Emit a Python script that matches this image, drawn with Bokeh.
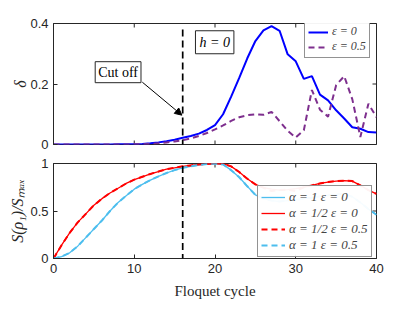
import math
from bokeh.plotting import figure
from bokeh.layouts import column
from bokeh.models import (Legend, LegendItem, Label, Arrow, NormalHead,
                          FixedTicker, Range1d)
from bokeh.embed import file_html
from bokeh.resources import INLINE

# ---------------- data ----------------
cycles = list(range(0, 41))

delta_eps0 = [0, 0, 0, 0, 0, 0, 0, 0, 0.0005, 0.001, 0.001, 0.002, 0.004, 0.007,
              0.011, 0.016, 0.022, 0.028, 0.036, 0.048, 0.064, 0.10, 0.158, 0.22,
              0.285, 0.342, 0.377, 0.391, 0.376, 0.298, 0.275, 0.217, 0.226,
              0.165, 0.146, 0.113, 0.086, 0.057, 0.052, 0.041, 0.040]

delta_eps05 = [0, 0, 0, 0, 0, 0, 0, 0, 0, 0, 0.001, 0.001, 0.002, 0.004, 0.007,
               0.010, 0.014, 0.020, 0.028, 0.038, 0.050, 0.063, 0.078, 0.090,
               0.097, 0.100, 0.098, 0.108, 0.077, 0.045, 0.023, 0.047, 0.180,
               0.115, 0.092, 0.196, 0.226, 0.150, 0.025, 0.135, 0.090]

s_a1_eps0 = [0, 0.02, 0.06, 0.13, 0.22, 0.31, 0.40, 0.50, 0.59, 0.66, 0.73,
             0.78, 0.825, 0.865, 0.90, 0.93, 0.955, 0.97, 0.985, 0.995, 1.0,
             0.99, 0.93, 0.855, 0.76, 0.67, 0.63, 0.61, 0.60, 0.61, 0.62, 0.63,
             0.64, 0.655, 0.665, 0.675, 0.68, 0.65, 0.59, 0.52, 0.46]

s_a12_eps0 = [0, 0.14, 0.27, 0.38, 0.47, 0.56, 0.63, 0.69, 0.74, 0.79, 0.83,
              0.86, 0.89, 0.915, 0.94, 0.955, 0.97, 0.98, 0.99, 0.995, 1.0,
              0.998, 0.97, 0.91, 0.84, 0.78, 0.745, 0.73, 0.72, 0.725, 0.735,
              0.75, 0.77, 0.79, 0.805, 0.815, 0.82, 0.815, 0.77, 0.72, 0.68]

s_a12_eps05 = [0, 0.14, 0.27, 0.38, 0.47, 0.56, 0.63, 0.69, 0.74, 0.79, 0.83,
               0.86, 0.89, 0.915, 0.94, 0.955, 0.97, 0.98, 0.99, 0.995, 1.0,
               0.998, 0.97, 0.91, 0.84, 0.78, 0.745, 0.71, 0.72, 0.725, 0.71,
               0.75, 0.77, 0.79, 0.805, 0.815, 0.82, 0.815, 0.77, 0.72, 0.68]

s_a1_eps05 = [0, 0.02, 0.06, 0.13, 0.22, 0.31, 0.40, 0.50, 0.59, 0.66, 0.73,
              0.78, 0.825, 0.865, 0.90, 0.93, 0.955, 0.97, 0.985, 0.995, 1.0,
              0.99, 0.93, 0.855, 0.76, 0.67, 0.63, 0.61, 0.60, 0.61, 0.62, 0.63,
              0.64, 0.655, 0.665, 0.675, 0.68, 0.65, 0.59, 0.52, 0.46]

cutoff_cycle = 16
cutoff_line_top = 0.38

x_ticks = [0, 10, 20, 30, 40]
top_y_ticks = [0, 0.2, 0.4]
top_y_labels = ["0", "0.2", "0.4"]
bot_y_ticks = [0, 0.5, 1]
bot_y_labels = ["0", "0.5", "1"]

# ---------------- styling helpers ----------------
AX = "#262626"
TICK_FONT = "Liberation Sans"
SERIF = "Liberation Serif"
X_MIN, X_MAX = 0, 40


def style_axis(ax, ticks, labels=None):
    ax.ticker = FixedTicker(ticks=ticks)
    ax.major_tick_in = 4
    ax.major_tick_out = 0
    ax.minor_tick_line_color = None
    ax.axis_line_color = AX
    ax.major_tick_line_color = AX
    ax.major_label_text_color = AX
    ax.major_label_text_font = TICK_FONT
    ax.major_label_text_font_size = "13px"
    ax.major_label_standoff = 5
    if labels is not None:
        ax.major_label_overrides = {t: l for t, l in zip(ticks, labels)}


def box_ticks(p, x_edges, y_top, y_ticks, y_bottom=None):
    # inward ticks on the box edges (the half outside the frame is clipped)
    n = len(x_ticks)
    p.scatter(x_ticks, [y_top] * n, marker="dash", size=8, angle=math.pi / 2,
              line_color=AX, line_width=1)
    if y_bottom is not None:
        p.scatter(x_ticks, [y_bottom] * n, marker="dash", size=8,
                  angle=math.pi / 2, line_color=AX, line_width=1)
    p.scatter([x_edges] * len(y_ticks), y_ticks, marker="dash", size=8,
              line_color=AX, line_width=1)


def base_fig(height, y_range, border_top, border_bottom):
    p = figure(width=407, height=height, x_range=Range1d(X_MIN, X_MAX),
               y_range=y_range, output_backend="svg", toolbar_location=None,
               min_border_left=53, min_border_right=31,
               min_border_top=border_top, min_border_bottom=border_bottom)
    p.grid.visible = False
    p.outline_line_color = AX
    p.background_fill_color = "white"
    p.border_fill_color = "white"
    return p


# ---------------- top panel ----------------
p1 = base_fig(156, Range1d(0, 0.4), 23, 12)
p1.xaxis.visible = False
style_axis(p1.yaxis[0], top_y_ticks, top_y_labels)
p1.yaxis.axis_label = "δ"
p1.yaxis.axis_label_text_font = SERIF
p1.yaxis.axis_label_text_font_size = "16px"
p1.yaxis.axis_label_text_font_style = "italic"
p1.yaxis.axis_label_text_color = AX
p1.yaxis.axis_label_standoff = -2
box_ticks(p1, X_MAX, 0.4, top_y_ticks, y_bottom=0)

r_b = p1.line(cycles, delta_eps0, line_color="#0000FF", line_width=2)
r_p = p1.line(cycles, delta_eps05, line_color="#7E2F8E", line_width=2,
              line_dash="6 4")

p1.add_layout(Arrow(end=None, x_start=cutoff_cycle, y_start=cutoff_line_top,
                    x_end=cutoff_cycle, y_end=-0.045, line_color="black",
                    line_width=1.7, line_dash="7 4"))

p1.add_layout(Arrow(end=NormalHead(size=7, fill_color="black", line_color="black"),
                    x_start=11.0, y_start=0.206, x_end=15.9, y_end=0.097,
                    line_color="black", line_width=1))
p1.add_layout(Label(x=8.0, y=0.239, text="Cut off", text_align="center",
                    text_baseline="middle", text_font=SERIF, text_font_size="14px",
                    text_color="black", border_line_color=AX,
                    background_fill_color="white", padding=3))
p1.add_layout(Label(x=19.96, y=0.338, text="h = 0", text_align="center",
                    text_baseline="middle", text_font=SERIF, text_font_size="14px",
                    text_font_style="italic", text_color="black",
                    border_line_color=AX, background_fill_color="white", padding=4))

leg1 = Legend(items=[LegendItem(label="ε = 0", renderers=[r_b]),
                     LegendItem(label="ε = 0.5", renderers=[r_p])],
              location=(251, 86))
leg1.border_line_color = AX
leg1.padding = 3
leg1.spacing = 0
leg1.margin = 0
leg1.glyph_width = 20
leg1.glyph_height = 14
leg1.label_height = 14
leg1.label_standoff = 4
leg1.label_text_font = SERIF
leg1.label_text_font_size = "12px"
leg1.label_text_font_style = "italic"
p1.add_layout(leg1)

# ---------------- bottom panel ----------------
p2 = base_fig(148, Range1d(0, 1), 7, 46)
style_axis(p2.xaxis[0], x_ticks)
style_axis(p2.yaxis[0], bot_y_ticks, bot_y_labels)
p2.xaxis.axis_label = "Floquet cycle"
p2.xaxis.axis_label_text_font = SERIF
p2.xaxis.axis_label_text_font_size = "15px"
p2.xaxis.axis_label_text_font_style = "normal"
p2.xaxis.axis_label_text_color = AX
p2.xaxis.axis_label_standoff = 7
p2.yaxis.axis_label = "S(ρ₁)/Sₘₐₓ"
p2.yaxis.axis_label_text_font = SERIF
p2.yaxis.axis_label_text_font_size = "16px"
p2.yaxis.axis_label_text_font_style = "italic"
p2.yaxis.axis_label_text_color = AX
p2.yaxis.axis_label_standoff = 1
box_ticks(p2, X_MAX, 1, bot_y_ticks)

r1 = p2.line(cycles, s_a1_eps0, line_color="#4DBEEE", line_width=1.3)
r2 = p2.line(cycles, s_a12_eps0, line_color="#FF0000", line_width=1.3)
r3 = p2.line(cycles, s_a12_eps05, line_color="#FF0000", line_width=2,
             line_dash="6 4")
r4 = p2.line(cycles, s_a1_eps05, line_color="#4DBEEE", line_width=2,
             line_dash="6 4")

p2.add_layout(Arrow(end=None, x_start=cutoff_cycle, y_start=1.09,
                    x_end=cutoff_cycle, y_end=0, line_color="black",
                    line_width=1.7, line_dash="7 4"))

leg2 = Legend(items=[LegendItem(label="α = 1 ε = 0", renderers=[r1]),
                     LegendItem(label="α = 1/2 ε = 0", renderers=[r2]),
                     LegendItem(label="α = 1/2 ε = 0.5", renderers=[r3]),
                     LegendItem(label="α = 1 ε = 0.5", renderers=[r4])],
              location=(204, 1))
leg2.border_line_color = AX
leg2.padding = 3
leg2.spacing = 0
leg2.margin = 0
leg2.glyph_width = 24
leg2.glyph_height = 14
leg2.label_height = 14
leg2.label_standoff = 4
leg2.label_text_font = SERIF
leg2.label_text_font_size = "13px"
leg2.label_text_font_style = "italic"
p2.add_layout(leg2)

layout = column(p1, p2, spacing=0)
open("out.html", "w").write(file_html(layout, INLINE))
